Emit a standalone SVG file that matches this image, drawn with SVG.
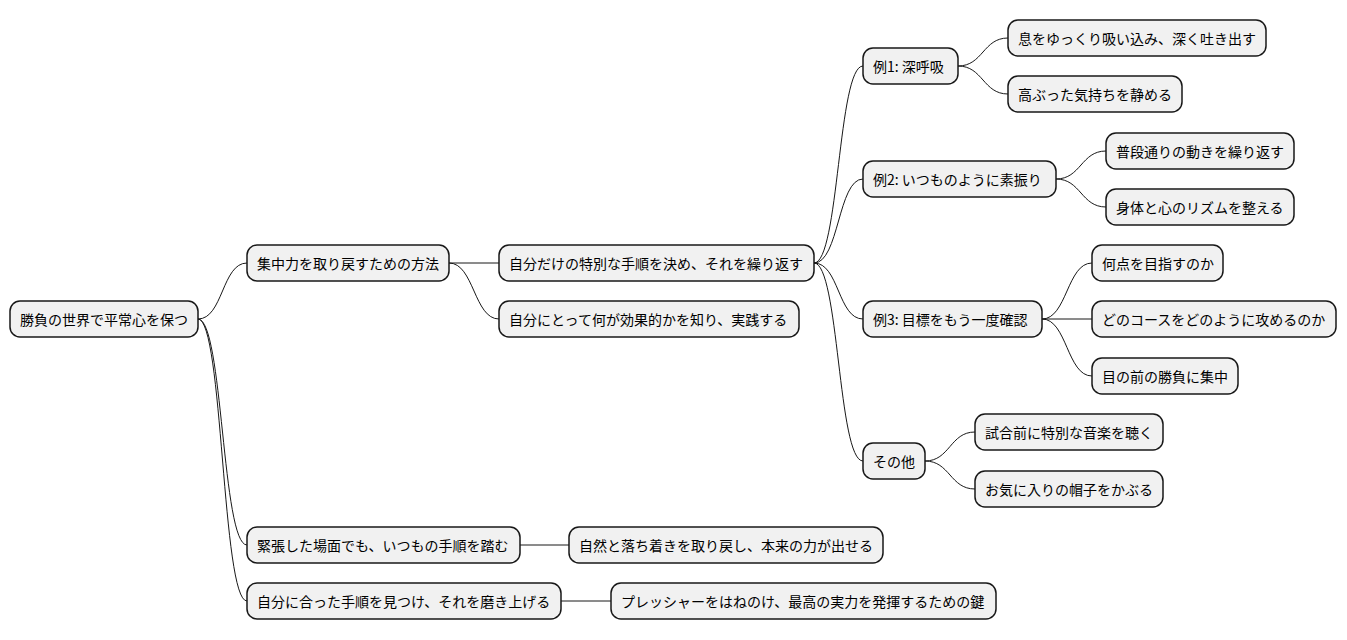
<svg xmlns="http://www.w3.org/2000/svg" width="1347" height="640" viewBox="0 0 1347 640">
<style>
.n rect{fill:#f1f1f1;stroke:#181818;stroke-width:1.5}
.n text{font-family:"Noto Sans CJK JP","DejaVu Sans",sans-serif;font-size:14px;fill:#000;dominant-baseline:central}
.c path{fill:none;stroke:#181818;stroke-width:1}
</style>
<rect width="1347" height="640" fill="#fff"/>
<g class="c">
<path d="M198 319 C223 319 222 263 247 263"/>
<path d="M198 319 C223 319 222 545 247 545"/>
<path d="M198 319 C223 319 222 601 247 601"/>
<path d="M449 263 L499 263"/>
<path d="M449 263 C474 263 474 319 499 319"/>
<path d="M814 263 C839 263 838 66 863 66"/>
<path d="M814 263 C839 263 838 179 863 179"/>
<path d="M814 263 C839 263 838 319 863 319"/>
<path d="M814 263 C839 263 838 461 863 461"/>
<path d="M958 66 C983 66 983 38 1008 38"/>
<path d="M958 66 C983 66 983 94 1008 94"/>
<path d="M1056 179 C1081 179 1081 151 1106 151"/>
<path d="M1056 179 C1081 179 1081 207 1106 207"/>
<path d="M1042 319 C1067 319 1067 263 1092 263"/>
<path d="M1042 319 L1092 319"/>
<path d="M1042 319 C1067 319 1067 376 1092 376"/>
<path d="M925 461 C950 461 950 432 975 432"/>
<path d="M925 461 C950 461 950 489 975 489"/>
<path d="M520 545 L569 545"/>
<path d="M561 601 L611 601"/>
</g>
<g id="root" class="n"><rect x="10" y="301" width="188" height="36" rx="10"/><text x="20" y="319">勝負の世界で平常心を保つ</text></g>
<g id="a" class="n"><rect x="247" y="245" width="202" height="36" rx="10"/><text x="257" y="263">集中力を取り戻すための方法</text></g>
<g id="b" class="n"><rect x="247" y="527" width="273" height="36" rx="10"/><text x="257" y="545">緊張した場面でも、いつもの手順を踏む</text></g>
<g id="c" class="n"><rect x="247" y="583" width="314" height="36" rx="10"/><text x="257" y="601">自分に合った手順を見つけ、それを磨き上げる</text></g>
<g id="a1" class="n"><rect x="499" y="245" width="315" height="36" rx="10"/><text x="509" y="263">自分だけの特別な手順を決め、それを繰り返す</text></g>
<g id="a2" class="n"><rect x="499" y="301" width="300" height="36" rx="10"/><text x="509" y="319">自分にとって何が効果的かを知り、実践する</text></g>
<g id="e1" class="n"><rect x="863" y="48" width="95" height="36" rx="10"/><text x="873" y="66">例1: 深呼吸</text></g>
<g id="e2" class="n"><rect x="863" y="161" width="193" height="36" rx="10"/><text x="873" y="179">例2: いつものように素振り</text></g>
<g id="e3" class="n"><rect x="863" y="301" width="179" height="36" rx="10"/><text x="873" y="319">例3: 目標をもう一度確認</text></g>
<g id="e4" class="n"><rect x="863" y="443" width="62" height="36" rx="10"/><text x="873" y="461">その他</text></g>
<g id="e11" class="n"><rect x="1008" y="20" width="258" height="36" rx="10"/><text x="1018" y="38">息をゆっくり吸い込み、深く吐き出す</text></g>
<g id="e12" class="n"><rect x="1008" y="76" width="174" height="36" rx="10"/><text x="1018" y="94">高ぶった気持ちを静める</text></g>
<g id="e21" class="n"><rect x="1106" y="133" width="188" height="36" rx="10"/><text x="1116" y="151">普段通りの動きを繰り返す</text></g>
<g id="e22" class="n"><rect x="1106" y="189" width="188" height="36" rx="10"/><text x="1116" y="207">身体と心のリズムを整える</text></g>
<g id="e31" class="n"><rect x="1092" y="245" width="131" height="36" rx="10"/><text x="1102" y="263">何点を目指すのか</text></g>
<g id="e32" class="n"><rect x="1092" y="301" width="244" height="36" rx="10"/><text x="1102" y="319">どのコースをどのように攻めるのか</text></g>
<g id="e33" class="n"><rect x="1092" y="358" width="146" height="36" rx="10"/><text x="1102" y="376">目の前の勝負に集中</text></g>
<g id="e41" class="n"><rect x="975" y="414" width="188" height="36" rx="10"/><text x="985" y="432">試合前に特別な音楽を聴く</text></g>
<g id="e42" class="n"><rect x="975" y="471" width="188" height="36" rx="10"/><text x="985" y="489">お気に入りの帽子をかぶる</text></g>
<g id="b1" class="n"><rect x="569" y="527" width="314" height="36" rx="10"/><text x="579" y="545">自然と落ち着きを取り戻し、本来の力が出せる</text></g>
<g id="c1" class="n"><rect x="611" y="583" width="385" height="36" rx="10"/><text x="621" y="601">プレッシャーをはねのけ、最高の実力を発揮するための鍵</text></g>
</svg>
